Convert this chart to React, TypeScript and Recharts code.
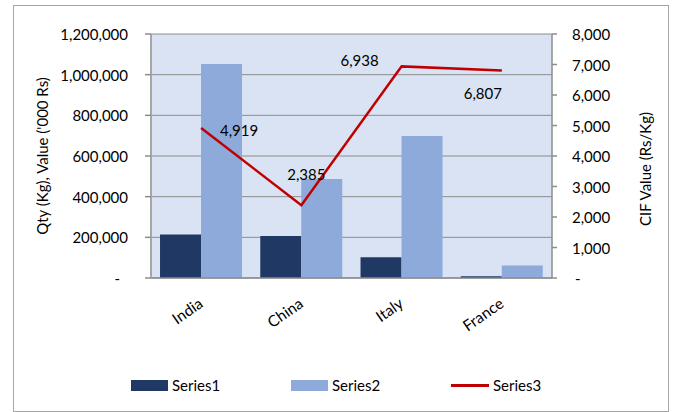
import React from 'react';
import {
  ComposedChart, Bar, Line, XAxis, YAxis, CartesianGrid, Legend, LabelList
} from 'recharts';

const countries = ['India', 'China', 'Italy', 'France'];
const series1 = [214000, 207000, 102000, 9000];
const series2 = [1052000, 487000, 698000, 61000];
const series3 = [4919, 2385, 6938, 6807];
const leftTicks = [0, 200000, 400000, 600000, 800000, 1000000, 1200000];
const rightTicks = [0, 1000, 2000, 3000, 4000, 5000, 6000, 7000, 8000];
const boundaryTicks = [0, 1, 2, 3, 4];

// Excel had the line labels dragged around by hand, offsets from each point
const LABEL_OFFSETS = [[38, 2], [5, -31], [-42, -6], [-19, 23]];

const FONT = 'Lato, "Open Sans", sans-serif';
const AXIS_GREY = '#8c8c8c';

const data = countries.map((name, i) => ({
  name,
  s1: series1[i],
  s2: series2[i],
  s3: series3[i],
}));

const fmt = (v: number) => (v === 0 ? '-' : v.toLocaleString('en-US'));

const LeftTick = ({ x, y, payload }: any) => (
  <text x={payload.value === 0 ? x - 8 : x} y={y} textAnchor="end" dominantBaseline="central"
    fontSize={15} fontFamily={FONT} fill="#000">
    {fmt(payload.value)}
  </text>
);

const RightTick = ({ x, y, payload }: any) => (
  <text x={payload.value === 0 ? x + 3 : x} y={y} textAnchor="start" dominantBaseline="central"
    fontSize={15} fontFamily={FONT} fill="#000">
    {fmt(payload.value)}
  </text>
);

const CategoryTick = ({ x, y, payload }: any) => {
  const tx = x + 3;
  const ty = y + 28;
  return (
    <text x={tx} y={ty} transform={`rotate(-35, ${tx}, ${ty})`} textAnchor="end"
      fontSize={15.5} fontFamily={FONT} fill="#000">
      {payload.value}
    </text>
  );
};

const LeftTitle = ({ viewBox }: any) => {
  const cx = viewBox.x - 9;
  const cy = viewBox.y + viewBox.height / 2;
  return (
    <text x={cx} y={cy} transform={`rotate(-90, ${cx}, ${cy})`} textAnchor="middle"
      dominantBaseline="central" fontSize={15} fontFamily={FONT} fill="#000">
      Qty (Kg), Value ('000 Rs)
    </text>
  );
};

const RightTitle = ({ viewBox }: any) => {
  const cx = viewBox.x + 93;
  const cy = viewBox.y + viewBox.height / 2 + 13;
  return (
    <text x={cx} y={cy} transform={`rotate(-90, ${cx}, ${cy})`} textAnchor="middle"
      dominantBaseline="central" fontSize={15} fontFamily={FONT} fill="#000">
      CIF Value (Rs/Kg)
    </text>
  );
};

const PointLabel = ({ x, y, value, index }: any) => {
  const [dx, dy] = LABEL_OFFSETS[index];
  return (
    <text x={x + dx} y={y + dy} textAnchor="middle" dominantBaseline="central"
      fontSize={15} fontFamily={FONT} fill="#000">
      {Number(value).toLocaleString('en-US')}
    </text>
  );
};

const renderLegend = ({ payload }: any) => (
  <div style={{ position: 'relative', width: 680, height: 26, fontFamily: FONT, fontSize: 15 }}>
    {(payload || []).map((entry: any, i: number) => (
      <div key={entry.value} style={{
        position: 'absolute', left: 131 + i * 160, top: 0, height: 26,
        display: 'flex', alignItems: 'center',
      }}>
        {entry.type === 'line' ? (
          <div style={{ width: 38, height: 3, background: entry.color }} />
        ) : (
          <div style={{ width: 37, height: 11, background: entry.color }} />
        )}
        <span style={{ marginLeft: 4, color: '#000' }}>{entry.value}</span>
      </div>
    ))}
  </div>
);

export default function App() {
  return (
    <div style={{ position: 'absolute', left: 0, top: 0, width: 680, height: 412, background: '#fff' }}>
      <div style={{
        position: 'absolute', left: 13, top: 5, width: 656, height: 407,
        border: '1.5px solid #a6a6a6', boxSizing: 'border-box',
      }} />
      <div style={{ position: 'absolute', left: 0, top: 0 }}>
        <ComposedChart width={680} height={412} data={data}
          margin={{ top: 34, right: 28, bottom: 74, left: 51 }}
          barCategoryGap="9%" barGap={0}>
          <CartesianGrid yAxisId="left" vertical={false} stroke={AXIS_GREY} fill="#dae3f3" />
          <XAxis xAxisId="bounds" type="number" domain={[0, 4]} ticks={boundaryTicks}
            height={0} tick={false} axisLine={false} tickSize={6}
            tickLine={{ stroke: AXIS_GREY, strokeWidth: 1.5 }} />
          <XAxis dataKey="name" height={60} tickLine={false} tickSize={0} tickMargin={0}
            axisLine={{ stroke: AXIS_GREY, strokeWidth: 1.5 }} tick={<CategoryTick />}
            interval={0} />
          <YAxis yAxisId="left" width={100} domain={[0, 1200000]} ticks={leftTicks}
            tick={<LeftTick />} tickSize={6} tickMargin={17}
            axisLine={{ stroke: '#a6a6a6', strokeWidth: 2 }}
            tickLine={{ stroke: AXIS_GREY, strokeWidth: 1.5 }}
            label={<LeftTitle />} />
          <YAxis yAxisId="right" orientation="right" width={100} domain={[0, 8000]}
            ticks={rightTicks} tick={<RightTick />} tickSize={5} tickMargin={15}
            axisLine={{ stroke: AXIS_GREY, strokeWidth: 1.5 }}
            tickLine={{ stroke: AXIS_GREY, strokeWidth: 1.5 }}
            label={<RightTitle />} />
          <Legend verticalAlign="middle" align="center" layout="horizontal"
            wrapperStyle={{ top: 372, left: 0, width: 680 }} content={renderLegend} />
          <Bar yAxisId="left" dataKey="s1" name="Series1" fill="#203864" isAnimationActive={false} />
          <Bar yAxisId="left" dataKey="s2" name="Series2" fill="#8eaadb" isAnimationActive={false} />
          <Line yAxisId="right" dataKey="s3" name="Series3" stroke="#c00000" strokeWidth={2.5}
            dot={false} activeDot={false} legendType="line" isAnimationActive={false}>
            <LabelList dataKey="s3" content={<PointLabel />} />
          </Line>
        </ComposedChart>
      </div>
    </div>
  );
}
